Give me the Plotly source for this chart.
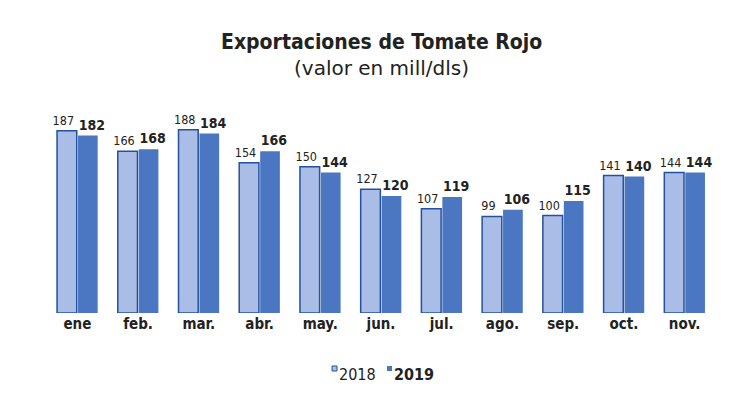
import plotly.graph_objects as go

# Data
MONTHS = ["ene", "feb.", "mar.", "abr.", "may.", "jun.", "jul.", "ago.", "sep.", "oct.", "nov."]
VALUES_2018 = [187, 166, 188, 154, 150, 127, 107, 99, 100, 141, 144]
VALUES_2019 = [182, 168, 184, 166, 144, 120, 119, 106, 115, 140, 144]

FONT = "DejaVu Sans Condensed, Liberation Sans Narrow, Roboto, sans-serif"
LIGHT = "#a9bde6"
DARK = "#4a76c2"
EDGE = "#24519e"
NBSP = "\u00a0"

W, H = 750, 406
# page body adds ~8px offset, so margins are shifted to compensate
M_T, M_B, M_L, M_R = 110, 101, 39, 43
PLOT_W = W - M_L - M_R
PLOT_H = H - M_T - M_B


def px_x(px):
    return (px - M_L) / PLOT_W


def px_y(py):
    return (H - M_B - py) / PLOT_H


fig = go.Figure()

# non-breaking spaces nudge the two labels apart, like in the original
fig.add_trace(go.Bar(
    x=MONTHS,
    y=VALUES_2018,
    name="2018",
    marker=dict(color=LIGHT, line=dict(color=EDGE, width=1.5)),
    text=[f"{v}{NBSP * 2}" for v in VALUES_2018],
    textposition="outside",
    constraintext="none",
    textfont=dict(size=12.5, color="#222222", family=FONT),
    cliponaxis=False,
))

fig.add_trace(go.Bar(
    x=MONTHS,
    y=VALUES_2019,
    name="2019",
    marker=dict(color=DARK, line=dict(width=0)),
    text=[f"{NBSP * 2}<b>{v}</b>" for v in VALUES_2019],
    textposition="outside",
    constraintext="none",
    textfont=dict(size=14, color="#222222", family=FONT),
    cliponaxis=False,
))

# hand-made legend: small squares sitting high beside the year labels
legend_shapes = [
    dict(type="rect", xref="paper", yref="paper",
         x0=px_x(324), x1=px_x(329), y0=px_y(363), y1=px_y(358),
         fillcolor=LIGHT, line=dict(color=EDGE, width=1)),
    dict(type="rect", xref="paper", yref="paper",
         x0=px_x(379), x1=px_x(384), y0=px_y(363), y1=px_y(358),
         fillcolor=DARK, line=dict(width=0)),
]

fig.update_layout(
    width=W,
    height=H,
    paper_bgcolor="white",
    plot_bgcolor="white",
    font=dict(family=FONT, color="#222222"),
    margin=dict(t=M_T, b=M_B, l=M_L, r=M_R),
    barmode="group",
    bargap=0.31,
    bargroupgap=0.06,
    showlegend=False,
    shapes=legend_shapes,
    annotations=[
        dict(text="<b>Exportaciones de Tomate Rojo</b>", x=0.5,
             y=px_y(34), xref="paper", yref="paper",
             yanchor="middle", showarrow=False, font=dict(size=21, family=FONT)),
        dict(text="(valor en mill/dls)", x=0.5,
             y=px_y(60), xref="paper", yref="paper",
             yanchor="middle", showarrow=False,
             font=dict(size=20, family="DejaVu Sans, sans-serif")),
        dict(text="2018", x=px_x(329), y=px_y(366), xref="paper", yref="paper",
             xanchor="left", yanchor="middle", showarrow=False,
             font=dict(size=16, family=FONT)),
        dict(text="<b>2019</b>", x=px_x(384), y=px_y(366), xref="paper", yref="paper",
             xanchor="left", yanchor="middle", showarrow=False,
             font=dict(size=16, family=FONT)),
    ],
)

fig.update_xaxes(
    showline=False,
    showgrid=False,
    ticks="",
    tickfont=dict(size=15, family=FONT),
    tickprefix="<b>",
    ticksuffix="</b>",
)
fig.update_yaxes(
    range=[0, 200],
    visible=False,
    showgrid=False,
)

fig.write_html("out.html")
